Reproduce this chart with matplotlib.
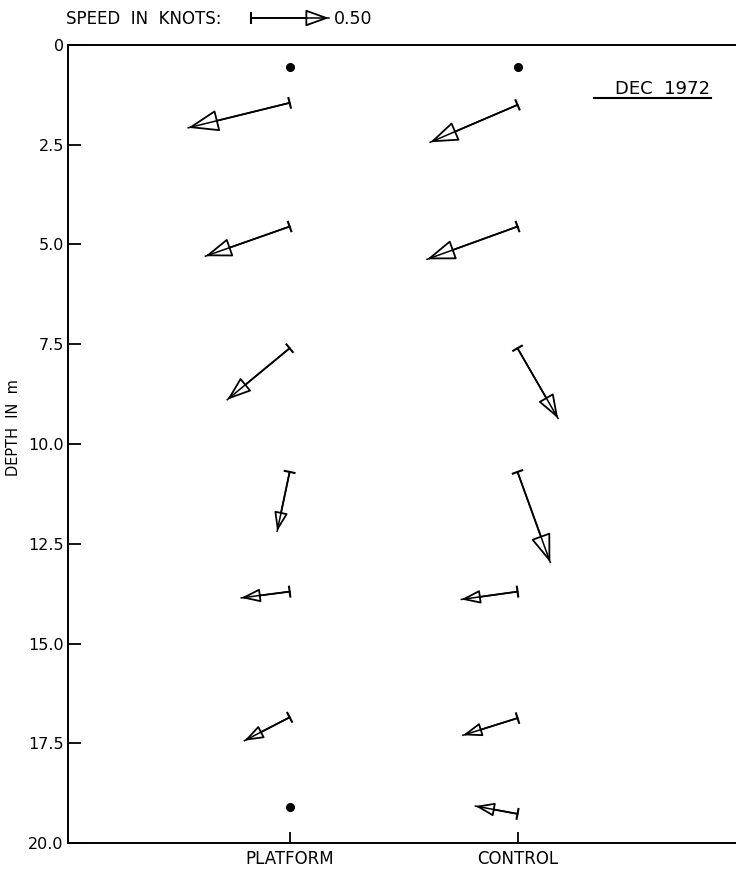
import numpy as np
import matplotlib.pyplot as plt

# current vectors, depth in m, east (u) and north (v) components in knots
platform_depth = [1.45, 4.55, 7.6, 10.7, 13.7, 16.85]
platform_u = [-0.65, -0.54, -0.40, -0.08, -0.31, -0.29]
platform_v = [-0.16, -0.19, -0.33, -0.38, -0.04, -0.15]
platform_calm = [0.55, 19.1]

control_depth = [1.5, 4.55, 7.6, 10.7, 13.7, 16.87, 19.27]
control_u = [-0.56, -0.58, 0.26, 0.21, -0.36, -0.35, -0.27]
control_v = [-0.24, -0.21, -0.45, -0.58, -0.05, -0.11, 0.05]
control_calm = [0.55]

stations = ['PLATFORM', 'CONTROL']
station_x = [1.42, 2.88]
depth_ticks = [0, 2.5, 5.0, 7.5, 10.0, 12.5, 15.0, 17.5, 20.0]
depth_labels = ['0', '2.5', '5.0', '7.5', '10.0', '12.5', '15.0', '17.5', '20.0']
scale_speed = 0.50

DPI = 100
PX_PER_KNOT = 156  # 0.5 knots is 78 px on the scale arrow
BAR_HALF = 6       # half width of the tail bar, px

plt.rcParams['font.family'] = 'DejaVu Sans'

fig = plt.figure(figsize=(7.36, 8.71), dpi=DPI)
W, H = 736, 871
ax = fig.add_axes([68 / W, 1 - 843 / H, 1 - 68 / W + 0.01, (843 - 45) / H])
ax.set_xlim(0, (736 + 7 - 68) / PX_PER_KNOT)
ax.set_ylim(20, 0)
ax.spines['right'].set_visible(False)
for s in ax.spines.values():
    s.set_linewidth(1.4)

ax.set_yticks(depth_ticks)
ax.set_yticklabels(depth_labels, fontsize=11.5)
ax.set_xticks(station_x)
ax.set_xticklabels(stations, fontsize=12)
ax.tick_params(axis='y', direction='in', length=9.5, width=1.3, pad=3)
ax.tick_params(axis='x', direction='in', length=8, width=1.3, pad=5)
ax.set_ylabel('DEPTH  IN  m', fontsize=10.5)
ax.yaxis.set_label_coords(-0.07, 0.52)

# overlay in figure pixels for the speed scale
fig_ax = fig.add_axes([0, 0, 1, 1], facecolor='none')
fig_ax.set_xlim(0, W)
fig_ax.set_ylim(0, H)
fig_ax.axis('off')


def head_style(speed):
    # bigger arrows were drawn with bigger heads
    return min(max(40 * speed, 16), 27) * 0.72


def draw_arrow(axes, p0, vec):
    # p0, vec in display pixels
    inv = axes.transData.inverted().transform
    tip = inv(p0 + vec)
    start = inv(p0)
    axes.annotate('', xy=tip, xytext=start,
                  arrowprops=dict(arrowstyle='-|>,head_length=1.0,head_width=0.36',
                                  fc='white', ec='black', lw=1.3,
                                  shrinkA=0, shrinkB=0,
                                  mutation_scale=head_style(np.hypot(*vec) / PX_PER_KNOT)))
    # shaft runs through the open head to the tip
    axes.plot([start[0], tip[0]], [start[1], tip[1]], color='black', lw=1.1, zorder=5)
    n = np.array([-vec[1], vec[0]]) / np.hypot(*vec) * BAR_HALF
    b1, b2 = inv(p0 + n), inv(p0 - n)
    axes.plot([b1[0], b2[0]], [b1[1], b2[1]], color='black', lw=1.5,
              solid_capstyle='butt')


for x0, depths, us, vs in [(station_x[0], platform_depth, platform_u, platform_v),
                           (station_x[1], control_depth, control_u, control_v)]:
    for d, u, v in zip(depths, us, vs):
        p0 = ax.transData.transform((x0, d))
        draw_arrow(ax, p0, np.array([u, v]) * PX_PER_KNOT)

ax.plot([station_x[0]] * len(platform_calm), platform_calm, 'o', color='black', ms=5.5)
ax.plot([station_x[1]] * len(control_calm), control_calm, 'o', color='black', ms=5.5)

ax.text((703 - 68) / 668, 1 - (89 - 45) / 798, 'DEC  1972', transform=ax.transAxes,
        ha='right', va='center', fontsize=13)
ax.plot([594 / W, 711 / W], [1 - 98 / H, 1 - 98 / H], transform=fig.transFigure,
        color='black', lw=1.5, clip_on=False)

# speed scale
fig.text(66 / W, 1 - 19 / H, 'SPEED  IN  KNOTS:', fontsize=12, va='center')
p_scale = fig_ax.transData.transform((251.0, H - 18.0))
draw_arrow(fig_ax, p_scale, np.array([scale_speed * PX_PER_KNOT, 0.0]))
fig.text(334 / W, 1 - 19 / H, '%.2f' % scale_speed, fontsize=12.5, va='center')

fig.savefig('out.png', dpi=DPI)
